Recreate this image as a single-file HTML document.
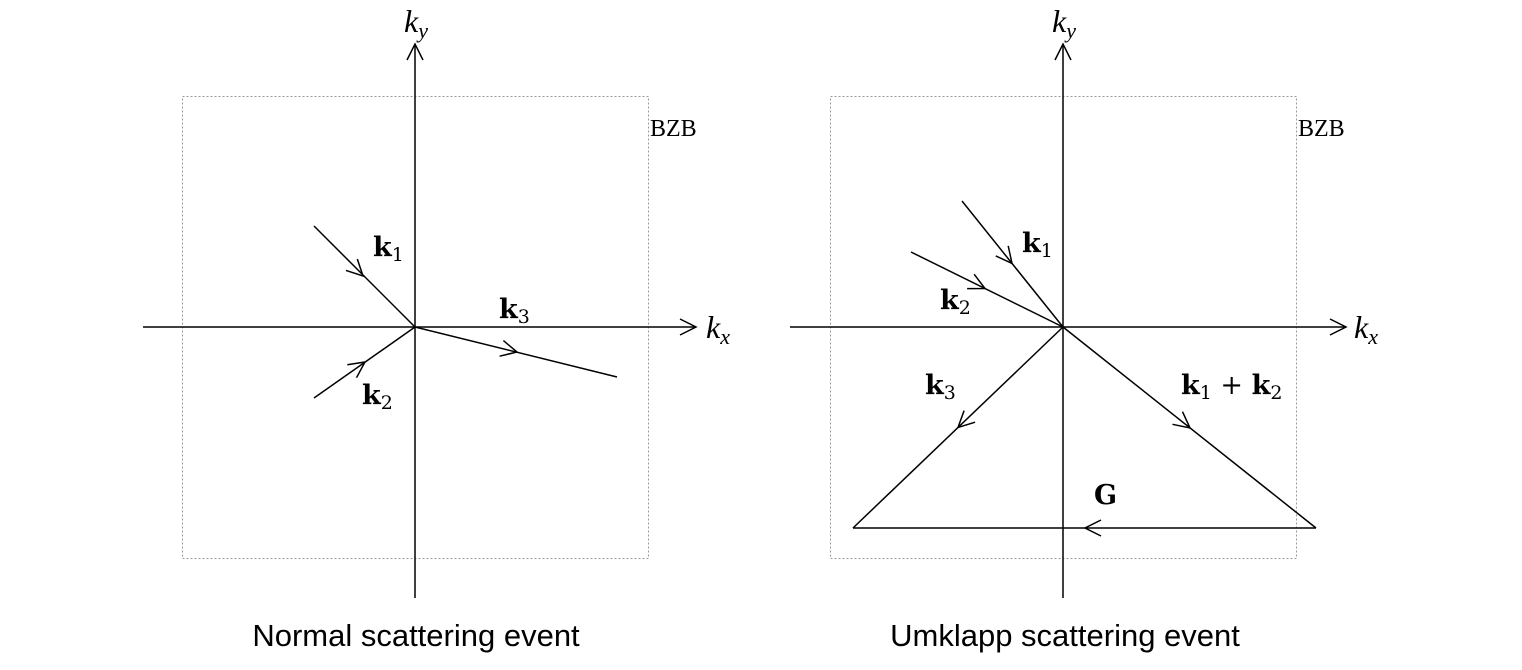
<!DOCTYPE html>
<html><head><style>body{margin:0;background:#fff}svg{display:block}
.m{font-family:"DejaVu Serif","Liberation Serif",serif;font-weight:bold;font-size:27px}
.s{font-size:19px;font-weight:normal}
.i{font-family:"Liberation Serif",serif;font-style:italic;font-size:32px}
.c{font-family:"Liberation Sans",sans-serif;font-size:31px}
.b{font-family:"Liberation Serif",serif;font-size:24px}
</style></head><body>
<svg width="1522" height="670" viewBox="0 0 1522 670" xmlns="http://www.w3.org/2000/svg">
<g fill="none" stroke="#999" stroke-width="1" stroke-dasharray="2,2">
<rect x="182.5" y="96.5" width="466" height="462"/>
<rect x="830.5" y="96.5" width="466" height="462"/>
</g>
<g stroke="#000" stroke-width="1.5" fill="none">
<line x1="415" y1="598" x2="415" y2="44"/><polyline points="407,60 415,44 423,60"/>
<line x1="143" y1="327" x2="696" y2="327"/><polyline points="680,319 696,327 680,335"/>
<line x1="1063" y1="598" x2="1063" y2="44"/><polyline points="1055,60 1063,44 1071,60"/>
<line x1="790" y1="327" x2="1346" y2="327"/><polyline points="1330,319 1346,327 1330,335"/>
<!-- left -->
<line x1="314" y1="226" x2="415" y2="327"/><polyline points="346,270.4 363,276 357.3,259"/>
<line x1="314" y1="398" x2="415" y2="327"/><polyline points="356.5,377.7 365,362 347.3,364.7"/>
<line x1="415" y1="327" x2="617" y2="377"/><polyline points="499.6,356.2 517,352 503.4,340.6"/>
<!-- right -->
<line x1="962" y1="201" x2="1063" y2="327"/><polyline points="995.8,255.9 1012,263.4 1008.2,245.9"/>
<line x1="911" y1="252" x2="1063" y2="327"/><polyline points="967.1,288.6 985,288.5 974.1,274.2"/>
<line x1="1063" y1="327" x2="853" y2="528"/><polyline points="964.1,410.6 958,427.5 975.1,422.2"/>
<line x1="1063" y1="327" x2="1316" y2="528"/><polyline points="1172.5,424.3 1190,428 1182.5,411.7"/>
<line x1="1316" y1="528" x2="853" y2="528"/><polyline points="1101,520 1085,528 1101,536"/>
</g>
<text class="i" x="404" y="32">k<tspan font-size="22" dy="6">y</tspan></text>
<text class="i" x="706" y="338">k<tspan font-size="22" dy="6">x</tspan></text>
<text class="i" x="1052" y="32">k<tspan font-size="22" dy="6">y</tspan></text>
<text class="i" x="1354" y="338">k<tspan font-size="22" dy="6">x</tspan></text>
<text class="b" x="650" y="136">BZB</text>
<text class="b" x="1298" y="136">BZB</text>
<text class="m" x="373" y="256">k<tspan class="s" dy="5">1</tspan></text>
<text class="m" x="499" y="318">k<tspan class="s" dy="5">3</tspan></text>
<text class="m" x="362" y="404">k<tspan class="s" dy="5">2</tspan></text>
<text class="m" x="1022" y="252">k<tspan class="s" dy="5">1</tspan></text>
<text class="m" x="940" y="309">k<tspan class="s" dy="5">2</tspan></text>
<text class="m" x="925" y="394">k<tspan class="s" dy="5">3</tspan></text>
<text class="m" x="1181" y="394">k<tspan class="s" dy="5">1</tspan><tspan dy="-5" font-weight="normal"> + </tspan>k<tspan class="s" dy="5">2</tspan></text>
<text class="m" x="1094" y="504">G</text>
<text class="c" x="416" y="646" text-anchor="middle">Normal scattering event</text>
<text class="c" x="1065" y="646" text-anchor="middle">Umklapp scattering event</text>
</svg>
</body></html>
